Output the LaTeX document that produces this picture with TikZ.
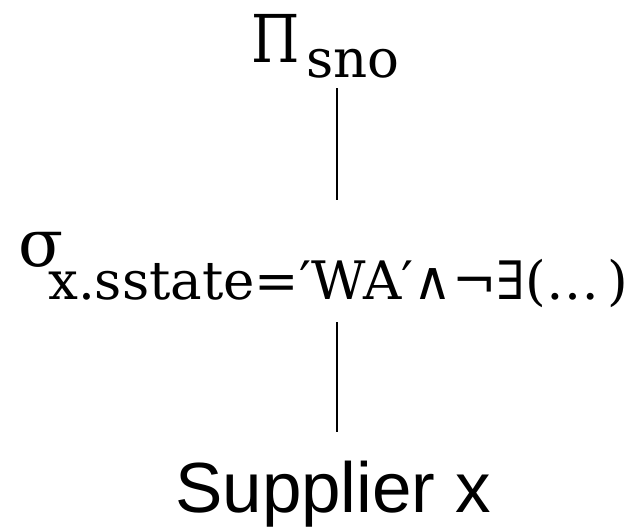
\documentclass[tikz,border=0pt]{standalone}
\usepackage{fontspec}
\newfontfamily\labelfont{Liberation Sans}
\newfontfamily\opfont{DejaVu Serif}
\begin{document}
\begin{tikzpicture}[x=1pt,y=-1pt,
  sym/.style={inner sep=0pt,font=\opfont\fontsize{66}{72}\selectfont},
  subs/.style={anchor=base west,inner sep=0pt,font=\opfont\fontsize{53}{58}\selectfont},
  rel/.style={anchor=base west,inner sep=0pt,font=\labelfont\fontsize{71}{78}\selectfont},
  edge/.style={line width=1.3pt}]
\useasboundingbox (0,0) rectangle (636,527);
% projection
\node[sym,anchor=base east] (proj) at (300,62) {\scalebox{0.84}[1]{Π}};
\node[subs] (projsub) at (306,77) {sno};
% selection
\node[sym,anchor=base west] (sel) at (18,266) {σ};
\node[subs] (selsub) at (48,299) {x.sstate=′WA′∧¬∃(…\,)};
% base relation
\node[rel] (supp) at (175,512) {Supplier x};
% tree edges
\coordinate (e1a) at (337,88);
\coordinate (e1b) at (337,200);
\coordinate (e2a) at (337,322);
\coordinate (e2b) at (337,432);
\draw[edge] (e1a) -- (e1b);
\draw[edge] (e2a) -- (e2b);
\end{tikzpicture}
\end{document}
